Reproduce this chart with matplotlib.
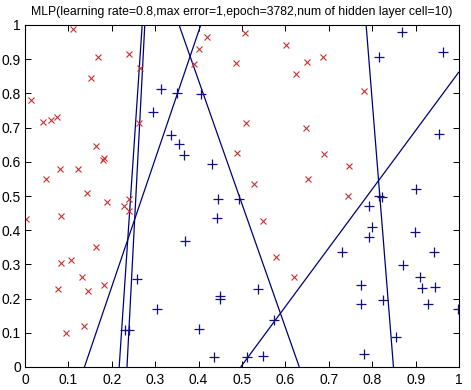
import matplotlib
matplotlib.use("Agg")
import matplotlib.pyplot as plt
import numpy as np

title = "MLP(learning rate=0.8,max error=1,epoch=3782,num of hidden layer cell=10)"

# class 1 (red x)
red_x = [0.111, 0.169, 0.240, 0.265, 0.152, 0.014, 0.042, 0.059, 0.074, 0.263,
         0.163, 0.182, 0.180, 0.081, 0.123, 0.049, 0.144, 0.240, 0.190, 0.228,
         0.240, 0.003, 0.083, 0.164, 0.083, 0.106, 0.132, 0.077, 0.146, 0.182,
         0.137, 0.095,
         0.419, 0.508, 0.402, 0.601, 0.390, 0.487, 0.649, 0.624, 0.510, 0.647,
         0.489, 0.528, 0.652,
         0.687, 0.780, 0.690, 0.747, 0.745,
         0.549, 0.578, 0.620]
red_y = [0.988, 0.906, 0.914, 0.875, 0.844, 0.780, 0.716, 0.721, 0.730, 0.713,
         0.645, 0.611, 0.605, 0.578, 0.578, 0.549, 0.508, 0.492, 0.481, 0.472,
         0.457, 0.432, 0.441, 0.350, 0.303, 0.312, 0.262, 0.227, 0.222, 0.239,
         0.119, 0.098,
         0.964, 0.978, 0.929, 0.941, 0.886, 0.888, 0.891, 0.858, 0.712, 0.698,
         0.625, 0.534, 0.551,
         0.905, 0.807, 0.622, 0.587, 0.499,
         0.426, 0.321, 0.262]

# class 2 (blue +)
blue_x = [0.257, 0.230, 0.240, 0.304,
          0.313, 0.351, 0.405, 0.296, 0.337, 0.354, 0.366, 0.432, 0.445, 0.492,
          0.443, 0.369, 0.536, 0.450, 0.450, 0.574, 0.400, 0.436, 0.512, 0.548,
          0.869, 0.816, 0.962, 0.955, 0.902, 0.816, 0.822,
          0.793, 0.800, 0.793, 0.731, 0.899, 0.942, 0.870, 0.911, 0.914, 0.945,
          0.774, 0.774, 0.826, 0.929, 0.998, 0.854, 0.780]
blue_y = [0.258, 0.107, 0.107, 0.169,
          0.812, 0.802, 0.798, 0.745, 0.679, 0.653, 0.619, 0.594, 0.491, 0.491,
          0.437, 0.367, 0.227, 0.209, 0.198, 0.137, 0.110, 0.029, 0.029, 0.033,
          0.980, 0.905, 0.922, 0.680, 0.521, 0.499, 0.498,
          0.472, 0.409, 0.379, 0.335, 0.396, 0.335, 0.297, 0.262, 0.230, 0.233,
          0.241, 0.185, 0.196, 0.183, 0.171, 0.089, 0.037]

# hidden-neuron decision boundaries (endpoints)
line_x0 = [0.217, 0.235, 0.137, 0.355, 0.497, 0.786]
line_y0 = [0.0, 0.0, 0.0, 1.0, 0.0, 1.0]
line_x1 = [0.270, 0.276, 0.405, 0.632, 1.000, 0.849]
line_y1 = [1.0, 1.0, 1.0, 0.0, 0.863, 0.0]

xticks = [0, 0.1, 0.2, 0.3, 0.4, 0.5, 0.6, 0.7, 0.8, 0.9, 1]
yticks = [0, 0.1, 0.2, 0.3, 0.4, 0.5, 0.6, 0.7, 0.8, 0.9, 1]
tick_labels = ["0", "0.1", "0.2", "0.3", "0.4", "0.5", "0.6", "0.7", "0.8", "0.9", "1"]

plt.rcParams['font.family'] = ['Liberation Sans', 'DejaVu Sans']

fig = plt.figure(figsize=(4.71, 3.90), dpi=100)
ax = fig.add_axes([25/471, 23/390, 434/471, 342/390])

line_color = '#00007f'
for x0, y0, x1, y1 in zip(line_x0, line_y0, line_x1, line_y1):
    ax.plot([x0, x1], [y0, y1], color=line_color, lw=0.9, solid_capstyle='butt')

ax.plot(red_x, red_y, linestyle='none', marker='x', color='#c83232',
        markersize=3.8, markeredgewidth=0.8)
ax.plot(blue_x, blue_y, linestyle='none', marker='+', color='#10107f',
        markersize=7, markeredgewidth=0.9)

ax.set_xlim(0, 1)
ax.set_ylim(0, 1)
ax.set_xticks(xticks)
ax.set_xticklabels(tick_labels)
ax.set_yticks(yticks)
ax.set_yticklabels(tick_labels)
ax.tick_params(direction='in', length=4, width=0.7, top=True, right=True,
               labelsize=10, colors='black')
ax.tick_params(axis='x', pad=4)
ax.tick_params(axis='y', pad=3)
for s in ax.spines.values():
    s.set_linewidth(0.8)
    s.set_color('black')

fig.text(241.5/471, 1 - 12/390, title, fontsize=8.85, ha='center', va='center')

fig.savefig("out.png", dpi=100, facecolor='white')
